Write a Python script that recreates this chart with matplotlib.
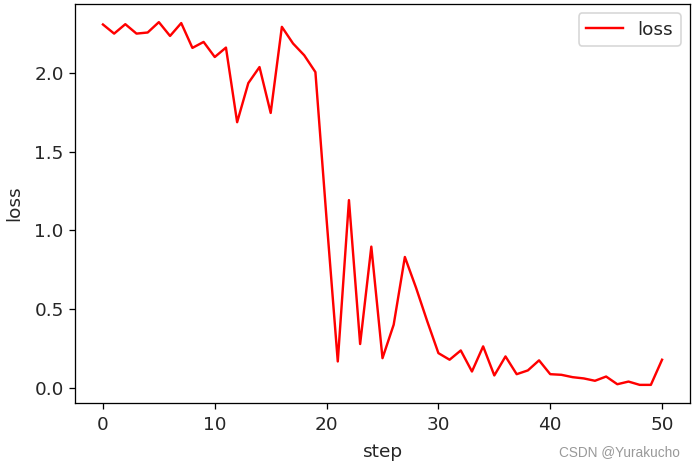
import matplotlib
matplotlib.use("Agg")
import matplotlib.pyplot as plt

steps = list(range(51))
loss = [2.311, 2.253, 2.313, 2.253, 2.260, 2.326, 2.238, 2.320, 2.162, 2.200,
        2.104, 2.164, 1.689, 1.938, 2.040, 1.748, 2.296, 2.190, 2.115, 2.008,
        1.070, 0.166, 1.193, 0.277, 0.897, 0.187, 0.400, 0.831, 0.635, 0.422,
        0.219, 0.177, 0.236, 0.102, 0.262, 0.077, 0.198, 0.085, 0.109, 0.173,
        0.085, 0.081, 0.066, 0.058, 0.043, 0.070, 0.021, 0.038, 0.017, 0.017,
        0.177]

plt.rcParams["font.size"] = 11.5
plt.rcParams["text.color"] = "#262626"
plt.rcParams["xtick.labelcolor"] = "#262626"
plt.rcParams["ytick.labelcolor"] = "#262626"
plt.rcParams["axes.labelcolor"] = "#262626"
dpi = 115.7
fig = plt.figure(figsize=(694 / dpi, 467 / dpi), dpi=dpi)
ax = fig.add_axes([75 / 694, 1 - 403 / 467, 615 / 694, 399 / 467])
ax.plot(steps, loss, color="red", label="loss", linewidth=1.5)
ax.tick_params(axis="x", pad=4.5)
ax.set_xlabel("step", labelpad=5.5)
ax.set_ylabel("loss", labelpad=7)
ax.legend(loc="upper right")
fig.text(680 / 694, 1 - 452 / 467, "CSDN @Yurakucho", ha="right", va="center",
         color="#999999", fontsize=8.5, family="Liberation Sans")
fig.savefig("out.png", dpi=dpi)
